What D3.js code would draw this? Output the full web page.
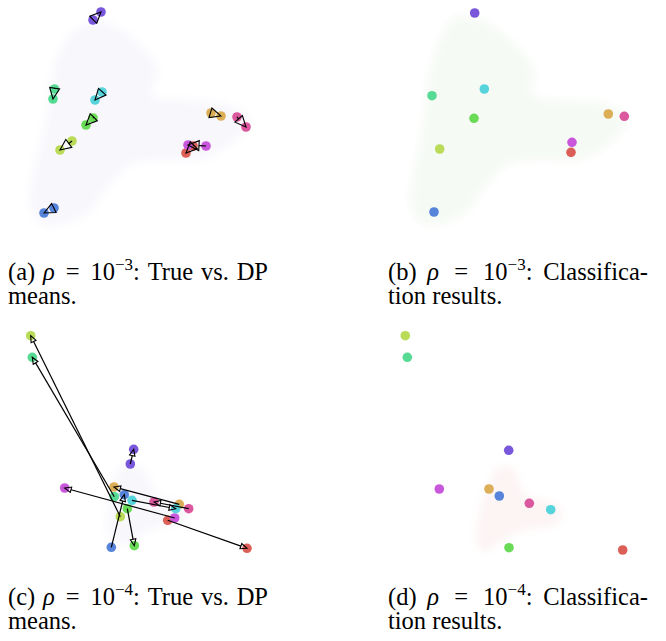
<!DOCTYPE html>
<meta charset="utf-8">
<style>

body {
  margin: 0;
  background: #fff;
}

.arrow {
  fill: none;
  stroke: #000;
  stroke-width: 1.2px;
}

.head {
  fill: none;
  stroke: #000;
  stroke-width: 1.1px;
  stroke-linejoin: miter;
}

.cap {
  font-family: "Liberation Serif", "Times New Roman", serif;
  font-size: 24.5px;
  fill: #000;
}

</style>
<svg width="666" height="641"></svg>
<script src="https://d3js.org/d3.v4.min.js"></script>
<script>

// cluster order: red, orange, lime, green, teal, cyan, blue, purple, magenta, pink
var colors = ["#db5f57", "#dbae57", "#b9db57", "#69db57", "#57db94",
              "#57d3db", "#5784db", "#7957db", "#c957db", "#db579e"];

// rho = 1e-3, true means (a)
var trueX3 = [193, 211, 72, 93, 54.5, 102, 54, 93, 206, 237];
var trueY3 = [146, 113, 141, 118, 89, 92, 208, 20, 146, 117];
// rho = 1e-3, DP means (a)
var dpX3 = [186, 221, 60, 86, 53, 95, 44, 101, 188, 246];
var dpY3 = [153, 116, 150, 125, 99, 100, 213, 12, 145, 127];
// rho = 1e-3, classification centres (b)
var clsX3 = [196, 233.3, 64.7, 99, 57, 109.3, 59, 99.7, 197, 249.3];
var clsY3 = [152.3, 114, 149, 118.3, 95.7, 89, 212, 13, 142.3, 116.3];

// rho = 1e-4, true means (c)
var trueX4 = [167.7, 179.3, 120.3, 127.3, 114.3, 132, 111.3, 130.3, 174.7, 188.7];
var trueY4 = [200.3, 184.3, 196.7, 188.7, 176.7, 180.3, 227.3, 144, 198, 188.7];
// rho = 1e-4, DP means (c)
var dpX4 = [247, 114, 30.7, 134.3, 32.3, 175.7, 124.3, 133.7, 64.7, 154];
var dpY4 = [228.3, 167, 15.7, 225.7, 37.3, 188.7, 174.7, 129.3, 168, 182];
// rho = 1e-4, classification centres (d)
var clsX4 = [247.7, 114, 30.3, 134, 32.3, 175.7, 124.3, 133.7, 64.3, 154.3];
var clsY4 = [230, 169, 15.7, 227.7, 37.3, 189.7, 176, 130.3, 169, 183.3];

// faint outline of the data cloud behind each panel
var cloudA = [[75, 30], [105, 22], [140, 45], [158, 70], [152, 95], [185, 100], [230, 105],
              [250, 120], [235, 140], [200, 160], [165, 160], [130, 165], [110, 185],
              [85, 215], [45, 225], [30, 205], [35, 165], [45, 125], [50, 85], [60, 50]];
var cloudB = [[80, 17], [112, 22], [140, 45], [160, 70], [158, 95], [190, 100], [235, 105],
              [252, 120], [240, 140], [205, 160], [168, 160], [132, 165], [112, 185],
              [88, 215], [50, 225], [35, 205], [40, 165], [48, 125], [52, 85], [62, 45]];
var cloudC = [[122, 145], [145, 150], [156, 175], [185, 184], [186, 200], [160, 206],
              [140, 215], [120, 226], [108, 212], [110, 180]];
var cloudD = [[125, 146], [140, 150], [150, 175], [170, 180], [188, 190], [180, 205],
              [150, 210], [125, 222], [110, 232], [102, 225], [105, 190], [115, 160]];

var svg = d3.select("svg");

var defs = svg.append("defs");
defs.append("filter").attr("id", "blur")
    .attr("x", "-20%").attr("y", "-20%").attr("width", "140%").attr("height", "140%")
  .append("feGaussianBlur").attr("stdDeviation", 5);

function panel(ox, oy) {
  return {
    x: d3.scaleLinear().domain([0, 260]).range([ox, ox + 260]),
    y: d3.scaleLinear().domain([0, 240]).range([oy, oy + 240])
  };
}

var pa = panel(0, 0), pb = panel(375, 0), pc = panel(0, 320), pd = panel(375, 320);

function cloud(p, pts, fill) {
  var line = d3.line()
      .x(function(d) { return p.x(d[0]); })
      .y(function(d) { return p.y(d[1]); })
      .curve(d3.curveCatmullRomClosed);
  svg.append("path")
      .datum(pts)
      .attr("d", line)
      .attr("fill", fill)
      .attr("filter", "url(#blur)");
}

cloud(pa, cloudA, "#f8f7fc");
cloud(pb, cloudB, "#f6faf5");
cloud(pc, cloudC, "#f8f7fc");
cloud(pd, cloudD, "#fdf4f4");

function dots(p, xs, ys) {
  svg.append("g").selectAll("circle")
      .data(xs)
    .enter().append("circle")
      .attr("cx", function(d) { return p.x(d); })
      .attr("cy", function(d, i) { return p.y(ys[i]); })
      .attr("r", 4.8)
      .attr("fill", function(d, i) { return colors[i]; });
}

function arrows(p, x0, y0, x1, y1, hl, hw) {
  var g = svg.append("g");
  x0.forEach(function(d, i) {
    var ax = p.x(x0[i]), ay = p.y(y0[i]), bx = p.x(x1[i]), by = p.y(y1[i]);
    var dx = bx - ax, dy = by - ay, len = Math.sqrt(dx * dx + dy * dy);
    var ux = dx / len, uy = dy / len;
    var cx = bx - ux * hl, cy = by - uy * hl;
    g.append("line").attr("class", "arrow")
        .attr("x1", ax).attr("y1", ay).attr("x2", cx).attr("y2", cy);
    g.append("path").attr("class", "head")
        .attr("d", "M" + bx + "," + by +
                   "L" + (cx - uy * hw / 2) + "," + (cy + ux * hw / 2) +
                   "L" + (cx + uy * hw / 2) + "," + (cy - ux * hw / 2) + "Z");
  });
}

// (a)
dots(pa, trueX3, trueY3);
dots(pa, dpX3, dpY3);
arrows(pa, trueX3, trueY3, dpX3, dpY3, 11, 10);

// (b)
dots(pb, clsX3, clsY3);

// (c)
dots(pc, trueX4, trueY4);
dots(pc, dpX4, dpY4);
arrows(pc, trueX4, trueY4, dpX4, dpY4, 6.5, 5.5);

// (d)
dots(pd, clsX4, clsY4);

// justified first line, like the LaTeX subcaptions: every word is its own
// tspan, the leftover width is shared between the gaps (wider round "=")
function caption(x, y, width, label, exp, words, line2) {
  var parts = [
    {t: "(" + label + ")", gap: 0},
    {t: "\u03c1", gap: 1, it: true},
    {t: "=", gap: 1.4},
    {t: "10", gap: 1.4},
    {t: "\u2212" + exp, gap: -1, sup: true},
    {t: ":", gap: -1, down: true}
  ];
  words.forEach(function(w) { parts.push({t: w, gap: 1}); });

  var t = svg.append("text").attr("class", "cap").attr("y", y);
  var spans = parts.map(function(p) {
    var s = t.append("tspan").text(p.t);
    if (p.it) s.style("font-style", "italic");
    if (p.sup) s.attr("dy", -10).style("font-size", "17px");
    if (p.down) s.attr("dy", 10);
    return s;
  });
  var widths = spans.map(function(s) { return s.node().getComputedTextLength(); });
  var used = d3.sum(widths), weight = d3.sum(parts, function(p) { return Math.max(p.gap, 0); });
  var unit = (width - used) / weight;
  var cx = x;
  parts.forEach(function(p, i) {
    if (p.gap >= 0) {
      cx += p.gap * unit;
      spans[i].attr("x", cx);
    }
    cx += widths[i];
  });

  svg.append("text").attr("class", "cap")
      .attr("x", x).attr("y", y + 24)
      .text(line2);
}

caption(8, 280, 260, "a", "3", ["True", "vs.", "DP"], "means.");
caption(388, 280, 260, "b", "3", ["Classifica-"], "tion results.");
caption(8, 605, 260, "c", "4", ["True", "vs.", "DP"], "means.");
caption(388, 605, 260, "d", "4", ["Classifica-"], "tion results.");

</script>
